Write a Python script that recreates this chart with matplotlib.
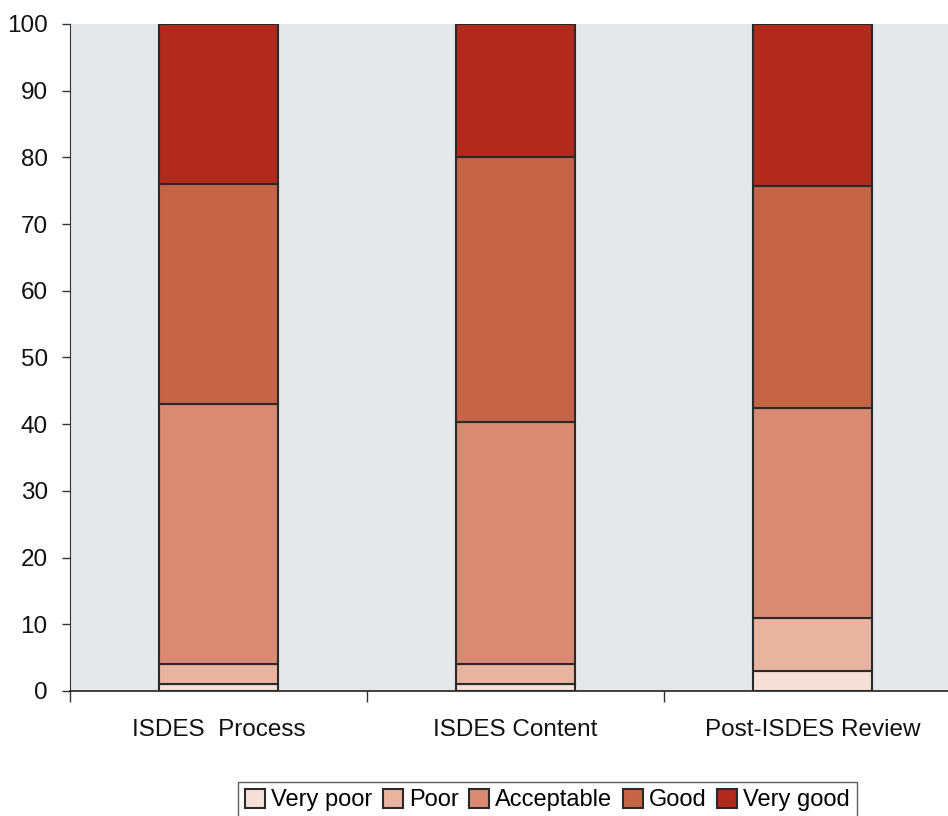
import matplotlib
matplotlib.use("Agg")
import matplotlib.pyplot as plt
import numpy as np

plt.rcParams["font.family"] = ["Liberation Sans", "DejaVu Sans"]

categories = ["ISDES  Process", "ISDES Content", "Post-ISDES Review"]
ratings = ["Very poor", "Poor", "Acceptable", "Good", "Very good"]
very_poor = [1, 1, 3]
poor = [3, 3, 8]
acceptable = [39, 36.4, 31.4]
good = [33, 39.6, 33.3]
very_good = [24, 20, 24.3]
yticks = [0, 10, 20, 30, 40, 50, 60, 70, 80, 90, 100]

COLORS = ["#F5E1D8", "#E8B4A0", "#D88B70", "#C66448", "#B12A1C"]

fig = plt.figure(figsize=(9.48, 8.16), dpi=100)
# plot area runs a little past the right edge of the figure
ax = fig.add_axes([0.0738, 0.1532, 0.94, 0.8174])
ax.set_facecolor("#E6E7E9")

x = np.arange(len(categories))
bottom = np.zeros(len(categories))
for name, vals, color in zip(ratings, [very_poor, poor, acceptable, good, very_good], COLORS):
    ax.bar(x, vals, width=0.40, bottom=bottom, color=color, edgecolor="#2a2a2a",
           linewidth=1.5, label=name, zorder=3)
    bottom += np.array(vals)

ax.set_xlim(-0.5, len(categories) - 0.5)
ax.set_ylim(0, 100)
ax.set_yticks(yticks)
ax.tick_params(axis="y", labelsize=17.5, length=6, width=1, color="#333333", pad=10,
               labelcolor="#111111")
ax.set_xticks(x)
ax.set_xticklabels(categories, fontsize=17.5, color="#111111")
ax.tick_params(axis="x", length=0, pad=20)
# category separators below the axis
ax.set_xticks(np.arange(len(categories)) - 0.5, minor=True)
ax.tick_params(axis="x", which="minor", length=8, width=1, color="#333333")

for side in ["top", "right"]:
    ax.spines[side].set_visible(False)
ax.spines["left"].set_color("#333333")
ax.spines["bottom"].set_color("#222222")
ax.spines["bottom"].set_linewidth(1.2)

leg = fig.legend(loc="lower center", bbox_to_anchor=(0.5775, -0.003), ncol=5, fontsize=17,
                 frameon=True, fancybox=False, edgecolor="#333333", handlelength=0.85,
                 handleheight=0.85, handletextpad=0.25, columnspacing=0.45, borderpad=0.3,
                 borderaxespad=0.0)
leg.get_frame().set_linewidth(1.0)

fig.savefig("out.png", dpi=100)
